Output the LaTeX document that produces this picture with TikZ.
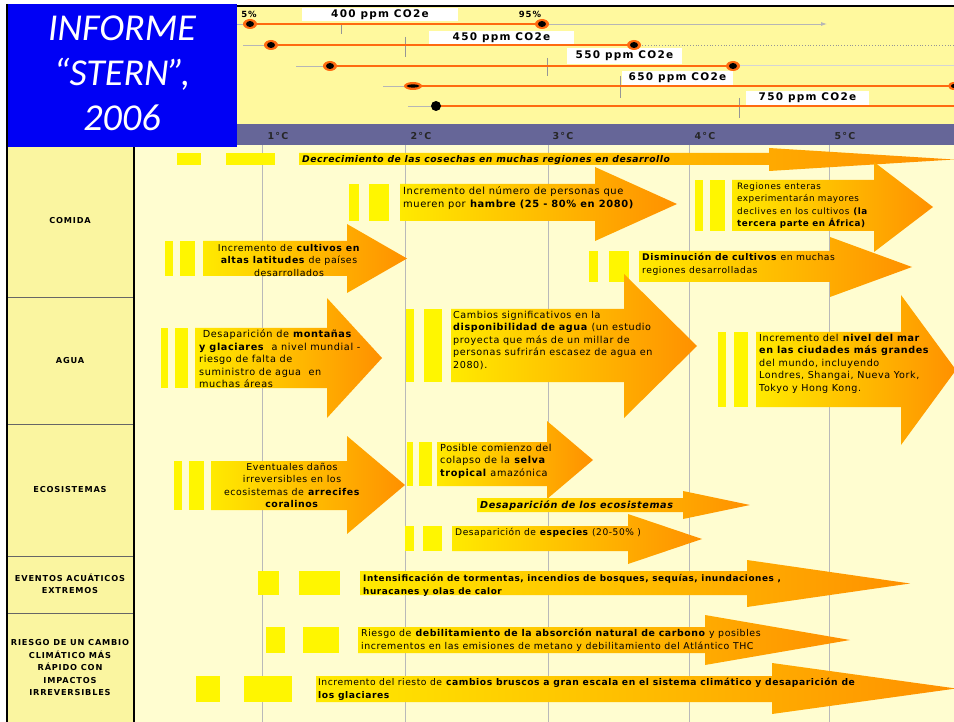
\documentclass[tikz,border=0pt]{standalone}
\usepackage{fontspec}
\usetikzlibrary{arrows.meta}

\newfontfamily\bodyfont[LetterSpace=6]{DejaVu Sans}
\newfontfamily\labelfont[LetterSpace=10]{DejaVu Sans}
\newfontfamily\scalefont[LetterSpace=12]{DejaVu Sans}
\newfontfamily\titlefont{Carlito}

\definecolor{paneyellow}{RGB}{255,249,158}
\definecolor{creamfill}{RGB}{255,253,208}
\definecolor{cellyellow}{RGB}{250,245,160}
\definecolor{bandpurple}{RGB}{102,102,152}
\definecolor{titleblue}{RGB}{0,0,245}
\definecolor{barfill}{RGB}{255,246,0}
\definecolor{arrowstart}{RGB}{255,234,0}
\definecolor{arrowend}{RGB}{255,144,0}
\definecolor{rangeorange}{RGB}{255,106,16}
\definecolor{gridgray}{RGB}{185,185,185}
\definecolor{tickgray}{RGB}{150,150,150}

% trend arrow: body from x=#1 to head base x=#2, tip at x=#3;
% body spans y=#4..#5, head spans y=#6..#7
\newcommand\trendarrow[7]{%
  \shade[left color=arrowstart, right color=arrowend]
    (#1,#4) -- (#2,#4) -- (#2,#6) -- (#3,{(#6+#7)/2}) -- (#2,#7) -- (#2,#5) -- (#1,#5) -- cycle;}
% pair of lead-in bars: x=#1..#2 and x=#3..#4, y=#5..#6
\newcommand\leadbars[6]{%
  \fill[barfill] (#1,#5) rectangle (#2,#6);
  \fill[barfill] (#3,#5) rectangle (#4,#6);}
% 5% / 95% marker on a concentration line
\newcommand\rangedot[1]{%
  \fill[rangeorange] (#1) ellipse (7 and 5);
  \fill[black] (#1) ellipse (4 and 3);}

\tikzset{
  impact/.style={font=\bodyfont\fontsize{#1}{12.5}\selectfont, inner sep=0pt, anchor=north west, align=left},
  impactc/.style={font=\bodyfont\fontsize{#1}{12.5}\selectfont, inner sep=0pt, anchor=north, align=center},
  headline/.style={font=\bodyfont\bfseries\itshape\fontsize{#1}{12.5}\selectfont, inner sep=0pt, anchor=north west, align=left},
  boldline/.style={font=\bodyfont\bfseries\fontsize{#1}{12.5}\selectfont, inner sep=0pt, anchor=north west, align=left},
  category/.style={font=\labelfont\bfseries\fontsize{8.2}{12.5}\selectfont, inner sep=0pt, align=center},
  degree/.style={font=\scalefont\bfseries\fontsize{9.5}{10}\selectfont, text=black!85, inner sep=0pt},
  ppmbox/.style={fill=white, font=\scalefont\bfseries\fontsize{10.5}{11}\selectfont, inner sep=0pt},
  pct/.style={font=\scalefont\bfseries\fontsize{8.5}{9}\selectfont, inner sep=0pt},
  leadline/.style={tickgray!70, line width=0.8pt},
  rangeline/.style={rangeorange, line width=2pt},
  tickmark/.style={tickgray, line width=0.7pt},
}

\begin{document}
\begin{tikzpicture}[x=1pt, y=-1pt]
\useasboundingbox (0,0) rectangle (954,722);
\fill[white] (0,0) rectangle (954,722);

% ---------- concentration panel ----------
\fill[paneyellow] (237,6) rectangle (954,124);
\draw[black, line width=2pt] (237,6) -- (954,6);

% ---------- temperature band ----------
\fill[bandpurple] (237,124) rectangle (954,145);

% ---------- impact area and grid ----------
\fill[creamfill] (134,145) rectangle (954,722);
\foreach \gx in {262,405,548,689,829}
  \draw[gridgray, line width=1pt] (\gx,145) -- (\gx,722);

% ---------- category column ----------
\fill[cellyellow] (7,147) rectangle (134,722);
\foreach \gy in {297,424,556,613}
  \draw[black!60, line width=0.8pt] (7,\gy) -- (134,\gy);
\draw[black, line width=2pt] (7,4) -- (7,722);
\draw[black, line width=2pt] (134,147) -- (134,722);

% ---------- title block ----------
\fill[titleblue] (8,4) rectangle (237,147);
\node[font=\titlefont\itshape\fontsize{38}{45}\selectfont, text=white, align=center, inner sep=0pt]
  (title) at (122,73) {INFORME\\“STERN”,\\2006};

% ---------- temperature labels ----------
\node[degree] (deg1) at (278,136) {1°C};
\node[degree] (deg2) at (421,136) {2°C};
\node[degree] (deg3) at (563,136) {3°C};
\node[degree] (deg4) at (705,136) {4°C};
\node[degree] (deg5) at (845,136) {5°C};

% ---------- concentration scenarios ----------
\coordinate (s1a) at (237,24);  \coordinate (s1lo) at (250,24);  \coordinate (s1hi) at (542,24);  \coordinate (s1end) at (827,24);
\coordinate (s2a) at (243,45);  \coordinate (s2lo) at (271,45);  \coordinate (s2hi) at (634,45);  \coordinate (s2end) at (954,45);
\coordinate (s3a) at (296,66);  \coordinate (s3lo) at (330,66);  \coordinate (s3hi) at (733,66);  \coordinate (s3end) at (954,66);
\coordinate (s4a) at (383,86);  \coordinate (s4lo) at (413,86);  \coordinate (s4hi) at (954,86);
\coordinate (s5a) at (408,106); \coordinate (s5lo) at (436,106); \coordinate (s5hi) at (954,106);

% central-estimate ticks
\draw[tickmark] (341,24) -- (341,34);
\draw[tickmark] (405,37) -- (405,57);
\draw[tickmark] (547,58) -- (547,76);
\draw[tickmark] (620,76) -- (620,98);
\draw[tickmark] (739,98) -- (739,118);

% labels
\node[ppmbox, minimum width=156pt, minimum height=13pt] (ppm400) at (380,15) {400 ppm CO2e};
\node[ppmbox, minimum width=145pt, minimum height=13pt] (ppm450) at (501.5,37.5) {450 ppm CO2e};
\node[ppmbox, minimum width=115pt, minimum height=16pt] (ppm550) at (624.5,56) {550 ppm CO2e};
\node[ppmbox, minimum width=111pt, minimum height=14pt] (ppm650) at (677.5,78) {650 ppm CO2e};
\node[ppmbox, minimum width=123pt, minimum height=14pt] (ppm750) at (807.5,98) {750 ppm CO2e};
\node[pct] (p5) at (249,14) {5\%};
\node[pct] (p95) at (530,14) {95\%};

% lines
\draw[leadline] (s1a) -- (s1lo);
\draw[rangeline] (s1lo) -- (s1hi);
\draw[leadline, -{Latex[length=6pt,width=4pt]}] (s1hi) -- (s1end);

\draw[leadline] (s2a) -- (s2lo);
\draw[rangeline] (s2lo) -- (s2hi);
\draw[tickgray, dotted, line width=0.8pt] (s2hi) -- (s2end);

\draw[leadline] (s3a) -- (s3lo);
\draw[rangeline] (s3lo) -- (s3hi);
\draw[tickgray!40, line width=1pt] (s3hi) -- (s3end);

\draw[leadline] (s4a) -- (s4lo);
\draw[rangeline] (s4lo) -- (s4hi);

\draw[leadline] (s5a) -- (s5lo);
\draw[rangeline] (s5lo) -- (s5hi);

% markers
\rangedot{s1lo} \rangedot{s1hi}
\rangedot{s2lo} \rangedot{s2hi}
\rangedot{s3lo} \rangedot{s3hi}
\fill[rangeorange] (s4lo) ellipse (9 and 4);
\fill[black] (s4lo) ellipse (6.5 and 1.6);
\fill[rangeorange] (s4hi) ellipse (6 and 4);
\fill[black] (s4hi) ellipse (3 and 2);
\fill[black] (s5lo) circle (5);

% ---------- categories ----------
\node[category] (catfood) at (70,221) {COMIDA};
\node[category] (catwater) at (70,361) {AGUA};
\node[category] (cateco) at (70,490) {ECOSISTEMAS};
\node[category] (catevents) at (70,584) {EVENTOS ACUÁTICOS\\EXTREMOS};
\node[category] (catrisk) at (70,668) {RIESGO DE UN CAMBIO\\CLIMÁTICO MÁS\\RÁPIDO CON\\IMPACTOS\\IRREVERSIBLES};

% ---------- COMIDA ----------
\leadbars{177}{201}{226}{275}{153}{165}
\trendarrow{299}{769}{954}{153}{165}{148}{171}
\node[headline=9.2] (harvest) at (302,155)
  {Decrecimiento de las cosechas en muchas regiones en desarrollo};

\leadbars{349}{359}{369}{389}{184}{221}
\trendarrow{400}{595}{677}{184}{221}{167}{241}
\node[impact=9.9] (hunger) at (403,186.5)
  {Incremento del número de personas que\\mueren por \textbf{hambre (25 - 80\% en 2080)}};

\leadbars{695}{703}{710}{725}{180}{231}
\trendarrow{732}{874}{933}{180}{231}{162}{252}
\node[impact=8.8] (regions) at (737,182.3)
  {Regiones enteras\\experimentarán mayores\\declives en los cultivos \textbf{(la}\\\textbf{tercera parte en África)}};

\leadbars{165}{173}{180}{195}{241}{276}
\trendarrow{203}{347}{407}{241}{276}{224}{293}
\node[impactc=9.4] (highlat) at (289,243.9)
  {Incremento de \textbf{cultivos en}\\\textbf{altas latitudes} de países\\desarrollados};

\leadbars{589}{598}{609}{629}{251}{282}
\trendarrow{639}{830}{912}{251}{282}{237}{297}
\node[impact=9.2] (cropfall) at (642,253)
  {\textbf{Disminución de cultivos} en muchas\\regiones desarrolladas};

% ---------- AGUA ----------
\leadbars{161}{168}{175}{188}{328}{388}
\trendarrow{195}{327}{382}{328}{388}{298}{418}
\node[impact=9.7] (glaciers) at (199,329.6)
  {\ Desaparición de \textbf{montañas}\\\textbf{y glaciares}\ \ a nivel mundial -\\riesgo de falta de\\suministro de agua\ \ en\\muchas áreas};

\leadbars{406}{414}{424}{442}{309}{382}
\trendarrow{451}{624}{697}{309}{382}{274}{418}
\node[impact=9.6] (wateravail) at (453,310.7)
  {Cambios significativos en la\\\textbf{disponibilidad de agua} (un estudio\\proyecta que más de un millar de\\personas sufrirán escasez de agua en\\2080).};

\leadbars{718}{726}{734}{748}{332}{407}
\trendarrow{756}{901}{956}{332}{407}{295}{445}
\node[impact=9.6] (sealevel) at (759,333.7)
  {Incremento del \textbf{nivel del mar}\\\textbf{en las ciudades más grandes}\\del mundo, incluyendo\\Londres, Shangai, Nueva York,\\Tokyo y Hong Kong.};

% ---------- ECOSISTEMAS ----------
\leadbars{174}{182}{189}{204}{461}{510}
\trendarrow{211}{347}{405}{461}{510}{436}{534}
\node[impactc=9.4] (coral) at (292,462.9)
  {Eventuales daños\\irreversibles en los\\ecosistemas de \textbf{arrecifes}\\\textbf{coralinos}};

\leadbars{407}{413}{419}{432}{442}{486}
\trendarrow{437}{547}{593}{442}{486}{421}{499}
\node[impact=9.7] (amazon) at (440,443.6)
  {Posible comienzo del\\colapso de la \textbf{selva}\\\textbf{tropical} amazónica};

\trendarrow{477}{683}{750}{498}{512}{491}{519}
\node[headline=9.65] (ecoloss) at (480,500.7)
  {Desaparición de los ecosistemas};

\leadbars{405}{414}{423}{442}{526}{551}
\trendarrow{452}{628}{702}{526}{551}{514}{564}
\node[impact=9.1] (species) at (455,528.1)
  {Desaparición de \textbf{especies} (20-50\% )};

% ---------- EVENTOS ACUÁTICOS EXTREMOS ----------
\leadbars{258}{279}{299}{340}{571}{595}
\trendarrow{360}{747}{910}{571}{595}{560}{607}
\node[boldline=8.9] (storms) at (363,574.2)
  {Intensificación de tormentas, incendios de bosques, sequías, inundaciones ,\\huracanes y olas de calor};

% ---------- RIESGO ----------
\leadbars{266}{285}{303}{339}{627}{653}
\trendarrow{358}{705}{850}{627}{653}{615}{665}
\node[impact=9.4] (carbon) at (361,628.8)
  {Riesgo de \textbf{debilitamiento de la absorción natural de carbono} y posibles\\incrementos en las emisiones de metano y debilitamiento del Atlántico THC};

\leadbars{196}{220}{244}{292}{676}{702}
\trendarrow{316}{772}{956}{676}{702}{663}{714}
\node[impact=9.2] (abrupt) at (318,678)
  {Incremento del riesto de \textbf{cambios bruscos a gran escala en el sistema climático y desaparición de}\\\textbf{los glaciares}};
\end{tikzpicture}
\end{document}
